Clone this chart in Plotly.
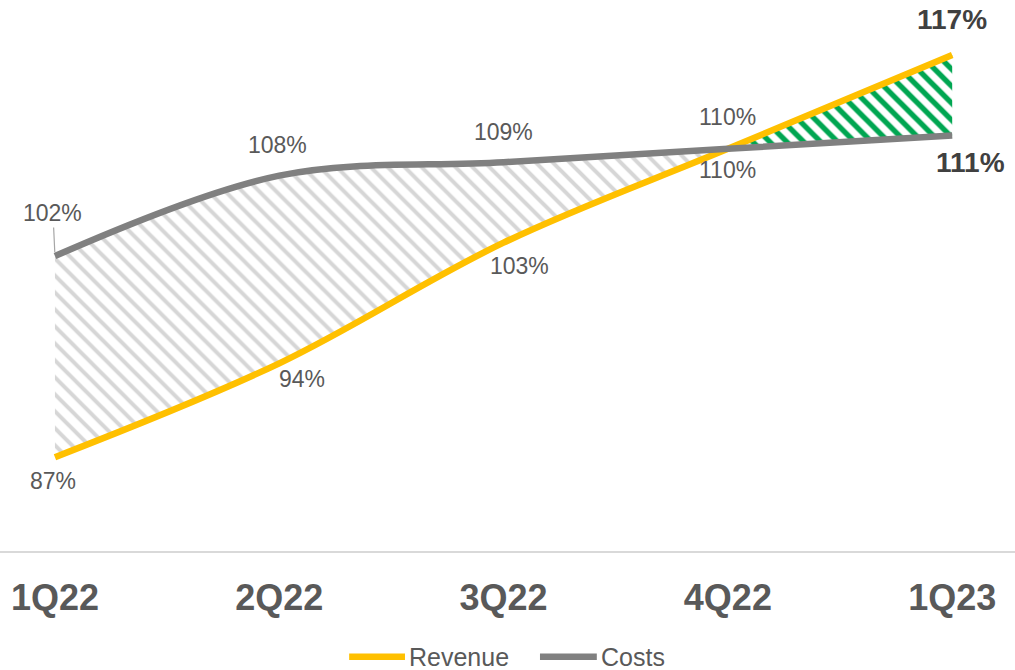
import plotly.graph_objects as go

# Quarterly indices (%)
quarters = ["1Q22", "2Q22", "3Q22", "4Q22", "1Q23"]
revenue = [87, 94, 103, 110, 117]
costs = [102, 108, 109, 110, 111]
series_names = ["Revenue", "Costs"]

REV_COLOR = "#FFC000"
COST_COLOR = "#808080"
LABEL_COLOR = "#595959"
BOLD_COLOR = "#404040"
FONT = "Arial, Liberation Sans, sans-serif"

x_idx = list(range(len(quarters)))
cross = 3  # quarter where revenue catches up with costs

fig = go.Figure()

# Gap band while costs exceed revenue (grey hatch)
fig.add_trace(go.Scatter(
    x=x_idx[:cross + 1], y=costs[:cross + 1], mode="lines",
    line=dict(width=0, shape="spline"), hoverinfo="skip", showlegend=False))
fig.add_trace(go.Scatter(
    x=x_idx[:cross + 1], y=revenue[:cross + 1], mode="lines",
    line=dict(width=0, shape="spline"), fill="tonexty",
    fillcolor="rgba(0,0,0,0)",
    fillpattern=dict(shape="\\", fgcolor="#d6d6d6", bgcolor="white",
                     size=12, solidity=0.33, fgopacity=1),
    hoverinfo="skip", showlegend=False))

# Gap band once revenue exceeds costs (green hatch)
fig.add_trace(go.Scatter(
    x=x_idx[cross:], y=costs[cross:], mode="lines",
    line=dict(width=0, shape="spline"), hoverinfo="skip", showlegend=False))
fig.add_trace(go.Scatter(
    x=x_idx[cross:], y=revenue[cross:], mode="lines",
    line=dict(width=0, shape="spline"), fill="tonexty",
    fillcolor="rgba(0,0,0,0)",
    fillpattern=dict(shape="\\", fgcolor="#00A651", bgcolor="white",
                     size=12, solidity=0.45, fgopacity=1),
    hoverinfo="skip", showlegend=False))

# Main lines
fig.add_trace(go.Scatter(
    x=x_idx, y=revenue, mode="lines", name=series_names[0],
    line=dict(color=REV_COLOR, width=6.5, shape="spline"), showlegend=False))
fig.add_trace(go.Scatter(
    x=x_idx, y=costs, mode="lines", name=series_names[1],
    line=dict(color=COST_COLOR, width=6.5, shape="spline"), showlegend=False))

annotations = []

def label(i, v, dx=0, dy=0, bold=False):
    annotations.append(dict(
        x=i, y=v, xref="x", yref="y", showarrow=False,
        text=f"<b>{v}%</b>" if bold else f"{v}%",
        xshift=dx, yshift=dy,
        font=dict(family=FONT, size=28 if bold else 23,
                  color=BOLD_COLOR if bold else LABEL_COLOR)))

# Costs labels (above the line), first one with a leader line
annotations.append(dict(
    x=0, y=costs[0], xref="x", yref="y", text=f"{costs[0]}%",
    showarrow=True, arrowhead=0, arrowwidth=1.2, arrowcolor="#a6a6a6",
    ax=-2, ay=-43, standoff=4,
    font=dict(family=FONT, size=23, color=LABEL_COLOR)))
label(1, costs[1], dx=-2, dy=31)
label(2, costs[2], dx=0, dy=30)
label(3, costs[3], dx=0, dy=32)
label(4, costs[4], dx=18, dy=-27, bold=True)

# Revenue labels (below the line)
label(0, revenue[0], dx=-2, dy=-24)
label(1, revenue[1], dx=23, dy=-16)
label(2, revenue[2], dx=16, dy=-23)
label(3, revenue[3], dx=0, dy=-21)
label(4, revenue[4], dx=0, dy=35, bold=True)

# Legend drawn below the axis: line swatch followed by series name
legend_items = [(series_names[0], REV_COLOR, 0.344, 0.399),
                (series_names[1], COST_COLOR, 0.532, 0.588)]
shapes = []
for name, color, x0, x1 in legend_items:
    shapes.append(dict(type="line", xref="paper", yref="paper",
                       x0=x0, x1=x1, y0=-0.192, y1=-0.192,
                       line=dict(color=color, width=6.5)))
    annotations.append(dict(x=x1, y=-0.192, xref="paper", yref="paper",
                            xanchor="left", yanchor="middle", xshift=2,
                            showarrow=False, text=name,
                            font=dict(family=FONT, size=25, color=LABEL_COLOR)))

fig.update_layout(
    width=1015, height=670,
    margin=dict(l=0, r=0, t=0, b=119, autoexpand=False),
    paper_bgcolor="white", plot_bgcolor="white",
    font=dict(family=FONT, color=LABEL_COLOR),
    annotations=annotations,
    shapes=shapes,
    showlegend=False,
    xaxis=dict(
        range=[-0.245, 4.28], tickmode="array", tickvals=x_idx,
        ticktext=[f"<b>{q}</b>" for q in quarters],
        tickfont=dict(family=FONT, size=36, color=LABEL_COLOR),
        showgrid=False, zeroline=False, showline=True, automargin=False,
        linecolor="#d9d9d9", linewidth=2, ticks="", ticklabelstandoff=14),
    yaxis=dict(range=[80, 121.1], visible=False, fixedrange=True,
               automargin=False),
)

fig.write_html("out.html")
